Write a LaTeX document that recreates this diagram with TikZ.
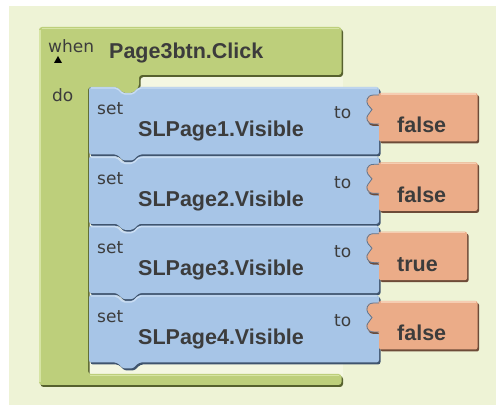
\documentclass[tikz,border=0pt]{standalone}
\usepackage{fontspec}
\newfontfamily\bigfont{Liberation Sans}
\newfontfamily\smallfont{DejaVu Sans}
\definecolor{bgC}{HTML}{EEF3D6}
\definecolor{slotC}{HTML}{F4F7E2}
\definecolor{greenC}{HTML}{BDCF7B}
\definecolor{greenL}{HTML}{D6E4A4}
\definecolor{greenD}{HTML}{56612E}
\definecolor{blueC}{HTML}{A7C5E7}
\definecolor{blueL}{HTML}{CADDF3}
\definecolor{blueD}{HTML}{3F546E}
\definecolor{orangeC}{HTML}{EBAC88}
\definecolor{orangeL}{HTML}{F6CDB2}
\definecolor{orangeD}{HTML}{6D4B38}
\definecolor{txt}{HTML}{3C3C3C}
\newcommand{\greenshape}{(39,27) -- (341.5,27) -- (341.5,75) -- (139,75) -- (139,87) -- (133,93) -- (123,93) -- (117,87) -- (88,87) -- (88,374) -- (341.5,374) -- (341.5,385) -- (39,385) -- cycle}
\newcommand{\blueshape}[1]{(89,#1) -- (117,#1) -- (123,#1+6) -- (133,#1+6) -- (139,#1) -- (379,#1) -- (379,#1+67.5) -- (139,#1+67.5) -- (133,#1+73.5) -- (123,#1+73.5) -- (117,#1+67.5) -- (89,#1+67.5) -- cycle}
\newcommand{\orangeshape}[2]{(379,#1+6) -- (#2,#1+6) -- (#2,#1+54.5) -- (379,#1+54.5) -- (379,#1+37) -- (374,#1+37) .. controls (366,#1+37) and (366,#1+30) .. (368,#1+28) -- (372,#1+22.5) -- (368,#1+18) .. controls (366,#1+15) and (366,#1+8) .. (374,#1+8) -- (379,#1+8) -- cycle}
\tikzset{
  big/.style={font=\bigfont\bfseries\fontsize{21.5}{24}\selectfont, text=txt, anchor=base west, inner sep=0pt},
  small/.style={font=\smallfont\fontsize{17}{20}\selectfont, text=txt, anchor=base west, inner sep=0pt},
}
\begin{document}
\begin{tikzpicture}[x=1pt,y=-1pt]
\useasboundingbox (0,0) rectangle (496,406);
\fill[white] (0,0) rectangle (496,406);
\fill[bgC] (9,6) rectangle (496,405);
% slot interior
\fill[slotC] (88,75) rectangle (343,376);
% green event block
\fill[greenD, rounded corners=3, shift={(1.5,2)}] \greenshape;
\fill[greenC, rounded corners=3] \greenshape;
\draw[greenL, line width=1.5] (42,28.5) -- (339,28.5);
\draw[greenL, line width=1.2] (40,30) -- (40,382);
\draw[greenL, line width=1.5] (90,375.5) -- (339,375.5);
\fill[black] (54,63) -- (62,63) -- (58,56) -- cycle;
\node[small] (when) at (48,53) {when};
\node[big] (event) at (109,59) {Page3btn.Click};
\node[small] (do) at (52,102) {do};
% set blocks
\foreach \i/\n/\val/\R in {0/1/false/477.5, 1/2/false/477.5, 2/3/true/467, 3/4/false/477.5}{
  \pgfmathsetmacro{\T}{87+69.33*\i}
  \fill[blueD, rounded corners=2.5, shift={(1.5,2)}] \blueshape{\T};
  \fill[blueC, rounded corners=2.5] \blueshape{\T};
  \draw[blueL, line width=1.4, rounded corners=2] (91,\T+1) -- (117,\T+1) -- (123,\T+7) -- (133,\T+7) -- (139,\T+1) -- (377,\T+1);
  \fill[orangeD, rounded corners=2, shift={(1.5,2)}] \orangeshape{\T}{\R};
  \fill[orangeC, rounded corners=2] \orangeshape{\T}{\R};
  \draw[blueD!70!blueC, line width=0.8] (379,\T+8) -- (374,\T+8) .. controls (366,\T+8) and (366,\T+15) .. (368,\T+18) -- (372,\T+22.5) -- (368,\T+28) .. controls (366,\T+30) and (366,\T+37) .. (374,\T+37) -- (379,\T+37);
  \draw[orangeL, line width=1.4] (381,\T+7) -- (\R-2,\T+7);
  \node[small] (set\n) at (97,\T+28) {set};
  \node[big] (name\n) at (138,\T+50) {SLPage\n.Visible};
  \node[small] (to\n) at (334,\T+32) {to};
  \node[big] (val\n) at (397,\T+46) {\val};
}
\end{tikzpicture}
\end{document}
